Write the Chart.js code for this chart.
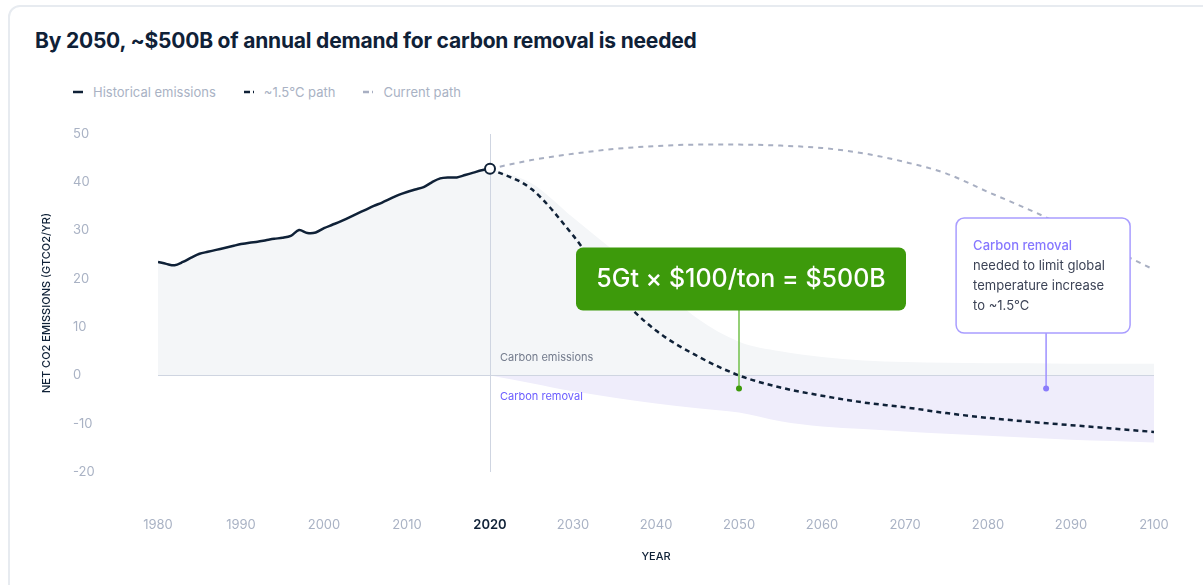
<!DOCTYPE html>
<html>
<head>
<meta charset="utf-8">
<script src="https://cdn.jsdelivr.net/npm/chart.js@4.4.1/dist/chart.umd.min.js"></script>
<style>
    html, body { margin: 0; padding: 0; background: #fff; width: 1203px; height: 585px; overflow: hidden; font-family: Inter, "Noto Sans", sans-serif; }
    .card { position: absolute; left: 8px; top: 5px; width: 1240px; height: 640px; border: 2px solid #e7ebf0; border-radius: 12px; box-sizing: border-box; }
    h2 { position: absolute; left: 35px; top: 28px; margin: 0; font-size: 21px; line-height: 26px; font-weight: 700; color: #0f2137; letter-spacing: -0.2px; }
    .legend { position: absolute; left: 73px; top: 83px; display: flex; font-size: 13px; line-height: 18px; color: #a9b2c4; }
    .legend .item { display: flex; align-items: center; margin-right: 28px; }
    .legend svg { margin-right: 10px; }
    #wrap { position: absolute; left: 0; top: 110px; width: 1203px; height: 475px; }
</style>
</head>
<body>
<div class="card"></div>
<h2>By 2050, ~$500B of annual demand for carbon removal is needed</h2>
<div class="legend" id="legend"></div>
<div id="wrap"><canvas id="co2Chart"></canvas></div>

<script>
// ===============================
//  DATA
// ===============================
const HIST_YEARS = [
    1980, 1981, 1982, 1983, 1984, 1985, 1986, 1987, 1988, 1989,
    1990, 1991, 1992, 1993, 1994, 1995, 1996, 1997, 1998, 1999,
    2000, 2001, 2002, 2003, 2004, 2005, 2006, 2007, 2008, 2009,
    2010, 2011, 2012, 2013, 2014, 2015, 2016, 2017, 2018, 2019, 2020
];
const HIST_EMISSIONS = [
    23.5, 23.1, 22.8, 23.5, 24.4, 25.2, 25.6, 26.0, 26.4, 26.8,
    27.2, 27.5, 27.7, 28.0, 28.3, 28.5, 28.9, 30.1, 29.5, 29.6,
    30.5, 31.2, 31.9, 32.7, 33.5, 34.3, 35.1, 35.8, 36.6, 37.4,
    38.0, 38.5, 39.0, 40.0, 40.8, 41.0, 41.0, 41.5, 42.0, 42.5, 42.8
];

const PROJ_YEARS = [2020, 2025, 2030, 2035, 2040, 2045, 2050, 2055, 2060, 2065, 2070, 2075, 2080, 2085, 2090, 2095, 2100];
const PATH_15C = [42.8, 38.6, 29.0, 17.5, 9.3, 4.0, 0.0, -2.5, -4.2, -5.6, -6.6, -7.8, -8.8, -9.6, -10.3, -11.0, -11.7];
const CURRENT_PATH = [42.8, 44.6, 45.9, 46.9, 47.5, 47.8, 47.8, 47.6, 47.1, 46.0, 44.2, 41.8, 38.0, 34.3, 30.3, 26.1, 21.9];
const EMISSIONS_UPPER = [42.8, 39.8, 32.7, 25.7, 19.0, 11.8, 7.0, 5.0, 3.8, 3.1, 2.8, 2.6, 2.5, 2.5, 2.4, 2.4, 2.4];
const REMOVAL_LOWER = [0, -1.6, -3.3, -4.6, -5.8, -6.8, -7.7, -9.5, -10.6, -11.1, -11.6, -12.1, -12.5, -12.9, -13.3, -13.6, -13.9];

const X_MIN = 1980, X_MAX = 2100, X_STEP = 10;
const Y_MIN = -20, Y_MAX = 50, Y_STEP = 10;
const HIGHLIGHT_YEAR = 2020;

const LEGEND_ITEMS = [
    { label: "Historical emissions", colour: "#0f2137", dash: "" },
    { label: "~1.5°C path", colour: "#0f2137", dash: "6 3" },
    { label: "Current path", colour: "#a8afc2", dash: "6 3" }
];

// ===============================
//  COLOURS
// ===============================
const NAVY = "#0f2137";
const TICK_GREY = "#a9b2c4";
const REF_LINE = "#cfd5e1";

const toPoints = (xs, ys) => xs.map((x, i) => ({ x, y: ys[i] }));

// ===============================
//  HTML LEGEND
// ===============================
function buildLegend() {
    const el = document.getElementById("legend");
    LEGEND_ITEMS.forEach(item => {
        const div = document.createElement("div");
        div.className = "item";
        div.innerHTML = `
            <svg width="10" height="4"><line x1="0" y1="2" x2="10" y2="2" stroke="${item.colour}" stroke-width="2.5" stroke-dasharray="${item.dash}"/></svg>
            <span>${item.label}</span>`;
        el.appendChild(div);
    });
}

// ===============================
//  ANNOTATION PLUGIN
// ===============================
function roundRect(ctx, x, y, w, h, r) {
    ctx.beginPath();
    ctx.moveTo(x + r, y);
    ctx.arcTo(x + w, y, x + w, y + h, r);
    ctx.arcTo(x + w, y + h, x, y + h, r);
    ctx.arcTo(x, y + h, x, y, r);
    ctx.arcTo(x, y, x + w, y, r);
    ctx.closePath();
}

const annotations = {
    id: "annotations",
    afterDatasetsDraw(chart) {
        const { ctx, chartArea, scales: { x, y } } = chart;
        ctx.save();

        // y axis title
        ctx.save();
        ctx.translate(47, (chartArea.top + chartArea.bottom) / 2);
        ctx.rotate(-Math.PI / 2);
        ctx.font = "500 11px Inter";
        ctx.fillStyle = NAVY;
        ctx.textAlign = "center";
        ctx.textBaseline = "middle";
        ctx.fillText("NET CO2 EMISSIONS (GTCO2/YR)", 0, 0);
        ctx.restore();

        // area labels
        const lx = x.getPixelForValue(HIGHLIGHT_YEAR) + 10;
        ctx.textBaseline = "middle";
        ctx.font = "400 11px Inter";
        ctx.fillStyle = "#737b8c";
        ctx.fillText("Carbon emissions", lx, y.getPixelForValue(3.7));
        ctx.fillStyle = "#6b5cff";
        ctx.fillText("Carbon removal", lx, y.getPixelForValue(-4.4));

        // green callout
        const gx = x.getPixelForValue(2050);
        const gTop = y.getPixelForValue(26.5);
        const gDot = y.getPixelForValue(-2.7);
        ctx.strokeStyle = "#72c04a";
        ctx.lineWidth = 1.5;
        ctx.beginPath();
        ctx.moveTo(gx, gTop + 60);
        ctx.lineTo(gx, gDot);
        ctx.stroke();
        ctx.fillStyle = "#3d9a0b";
        ctx.beginPath();
        ctx.arc(gx, gDot, 3, 0, Math.PI * 2);
        ctx.fill();
        roundRect(ctx, gx - 163, gTop, 330, 63, 7);
        ctx.fill();
        ctx.fillStyle = "#fff";
        ctx.font = "500 25px Inter";
        ctx.textAlign = "center";
        ctx.fillText("5Gt × $100/ton = $500B", gx + 2, gTop + 32);

        // purple callout
        const px = x.getPixelForValue(2087);
        const pTop = y.getPixelForValue(32.6);
        const pDot = y.getPixelForValue(-2.7);
        ctx.strokeStyle = "#9d90ff";
        ctx.lineWidth = 1.5;
        ctx.beginPath();
        ctx.moveTo(px, pTop + 114);
        ctx.lineTo(px, pDot);
        ctx.stroke();
        ctx.fillStyle = "#8a7cfb";
        ctx.beginPath();
        ctx.arc(px, pDot, 3, 0, Math.PI * 2);
        ctx.fill();
        roundRect(ctx, px - 90, pTop, 174, 115, 8);
        ctx.fillStyle = "#fff";
        ctx.fill();
        ctx.strokeStyle = "#a99dff";
        ctx.lineWidth = 1.5;
        ctx.stroke();
        ctx.textAlign = "left";
        const tx = px - 73;
        ctx.font = "500 13px Inter";
        ctx.fillStyle = "#8677ff";
        ctx.fillText("Carbon removal", tx, pTop + 28);
        ctx.font = "400 13px Inter";
        ctx.fillStyle = "#3c4356";
        ["needed to limit global", "temperature increase", "to ~1.5°C"].forEach((line, i) => {
            ctx.fillText(line, tx, pTop + 48 + i * 20);
        });

        ctx.restore();
    }
};

// ===============================
//  BUILD CHART
// ===============================
function buildChart() {
    const ctx = document.getElementById("co2Chart");
    const lastHist = HIST_YEARS.length - 1;

    new Chart(ctx, {
        type: "line",
        data: {
            datasets: [
                {
                    label: "Historical emissions",
                    data: toPoints(HIST_YEARS, HIST_EMISSIONS),
                    borderColor: NAVY,
                    borderWidth: 2.5,
                    backgroundColor: "#f4f6f8",
                    fill: "origin",
                    tension: 0.3,
                    pointRadius: c => c.dataIndex === lastHist ? 5 : 0,
                    pointBackgroundColor: "#fff",
                    pointBorderColor: NAVY,
                    pointBorderWidth: 2
                },
                {
                    label: "~1.5°C path",
                    data: toPoints(PROJ_YEARS, PATH_15C),
                    borderColor: NAVY,
                    borderWidth: 2.5,
                    borderDash: [5, 4],
                    cubicInterpolationMode: "monotone",
                    pointRadius: 0,
                    fill: false
                },
                {
                    label: "Current path",
                    data: toPoints(PROJ_YEARS, CURRENT_PATH),
                    borderColor: "#a8afc2",
                    borderWidth: 2,
                    borderDash: [5, 5],
                    cubicInterpolationMode: "monotone",
                    pointRadius: 0,
                    fill: false
                },
                {
                    label: "Carbon emissions",
                    data: toPoints(PROJ_YEARS, EMISSIONS_UPPER),
                    borderWidth: 0,
                    backgroundColor: "#f4f6f8",
                    fill: "origin",
                    cubicInterpolationMode: "monotone",
                    pointRadius: 0
                },
                {
                    label: "Carbon removal",
                    data: toPoints(PROJ_YEARS, REMOVAL_LOWER),
                    borderWidth: 0,
                    backgroundColor: "#efedfb",
                    fill: "origin",
                    cubicInterpolationMode: "monotone",
                    pointRadius: 0
                }
            ]
        },
        options: {
            responsive: true,
            maintainAspectRatio: false,
            animation: false,
            layout: { padding: { left: 73, right: 49, top: 24, bottom: 0 } },
            plugins: {
                legend: { display: false },
                tooltip: { enabled: false },
                filler: { drawTime: "beforeDraw" }
            },
            scales: {
                x: {
                    type: "linear",
                    min: X_MIN,
                    max: X_MAX,
                    border: { display: false },
                    grid: {
                        drawTicks: true,
                        tickLength: 45,
                        tickColor: "rgba(0,0,0,0)",
                        color: c => c.tick && c.tick.value === HIGHLIGHT_YEAR ? REF_LINE : "rgba(0,0,0,0)"
                    },
                    ticks: {
                        stepSize: X_STEP,
                        autoSkip: false,
                        maxRotation: 0,
                        padding: 0,
                        callback: v => String(v),
                        color: c => c.tick && c.tick.value === HIGHLIGHT_YEAR ? NAVY : TICK_GREY,
                        font: c => ({ family: "Inter", size: 13, weight: c.tick && c.tick.value === HIGHLIGHT_YEAR ? "600" : "400" })
                    },
                    title: {
                        display: true,
                        text: "YEAR",
                        color: NAVY,
                        font: { family: "Inter", size: 11, weight: "500" },
                        padding: { top: 18, bottom: 22 }
                    },
                    afterFit: scale => { scale.height = 113; }
                },
                y: {
                    min: Y_MIN,
                    max: Y_MAX,
                    border: { display: false },
                    grid: {
                        drawTicks: false,
                        color: c => c.tick && c.tick.value === 0 ? REF_LINE : "rgba(0,0,0,0)"
                    },
                    ticks: {
                        stepSize: Y_STEP,
                        crossAlign: "far",
                        color: TICK_GREY,
                        font: { family: "Inter", size: 13 }
                    },
                    afterFit: scale => { scale.width = 85; }
                }
            }
        },
        plugins: [annotations]
    });
}

buildLegend();
buildChart();
</script>
</body>
</html>
